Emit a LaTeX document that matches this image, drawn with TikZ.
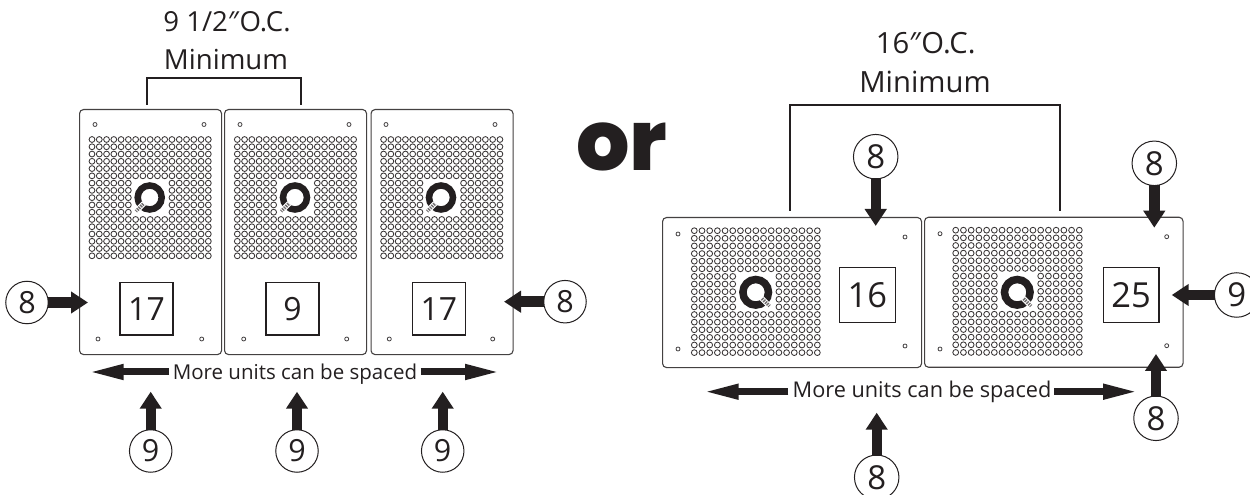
\documentclass[tikz,border=0pt]{standalone}
\usepackage{fontspec}
\setmainfont{Open Sans}
\usetikzlibrary{arrows.meta}
\definecolor{ink}{HTML}{231F20}
\newfontface\orfont{Poppins ExtraBold}
\newcommand{\dq}{\hspace{-.03em}{\itshape ″}\hspace{.06em}}
\tikzset{
  x=1bp,y=-1bp,
  panelbox/.style={draw=ink!85,line width=1.1bp,rounded corners=4bp,inner sep=0pt,anchor=north west},
  numbox/.style={draw=ink,line width=1.1bp,inner sep=0pt,text=ink,font=\fontsize{32bp}{32bp}\selectfont},
  callout/.style={circle,draw=ink,fill=white,line width=1bp,inner sep=0pt,minimum size=42.5bp,text=ink,font=\fontsize{30.5bp}{30.5bp}\selectfont},
  calloutb/.style={callout,minimum size=44.5bp,font=\fontsize{33bp}{33bp}\selectfont},
  fat/.style={draw=ink,line width=10.4bp,-{Triangle[length=17bp,width=21bp]},shorten <=-1bp},
  longarrow/.style={draw=ink,line width=7bp,-{Triangle[length=36bp,width=14bp]}},
  bracket/.style={draw=ink,line width=2bp},
  lbl/.style={text=ink,inner sep=0pt,font=\fontsize{27.6bp}{27.6bp}\selectfont},
  lblb/.style={lbl,font=\fontsize{29.2bp}{29.2bp}\selectfont},
  spaced/.style={text=ink,inner sep=0pt,anchor=base},
}
\newcommand{\holegrid}[4]{%
  \foreach \i in {0,...,16}{\foreach \j in {0,...,16}{%
    \pgfmathtruncatemacro{\skipit}{(\i>5)&&(\i<11)&&(\j>5)&&(\j<11)}%
    \ifnum\skipit=0
      \draw[ink!90,line width=.85bp] ({#1+\i*#3},{#2+\j*#4}) circle (2.9bp);
    \fi
  }}}
\newcommand{\smallhole}[2]{\draw[ink!85,line width=.8bp] (#1,#2) circle (2bp);}
\newcommand{\ringq}[5]{%
  \draw[ink,line width=#5bp] (#1,#2) circle (#4bp);
  \begin{scope}[shift={(#1,#2)},rotate=#3]
    \fill[white] (8,-2.7) rectangle (20,2.7);
    \draw[ink!65,line width=3.4bp,dash pattern=on 1.4bp off 1bp] (9,0) -- (19.5,0);
  \end{scope}}
\begin{document}
\begin{tikzpicture}
\useasboundingbox (0,0) rectangle (1250,495);
\clip (0,0) rectangle (1250,495);
\fill[white] (0,0) rectangle (1250,495);

\node[panelbox,minimum width=142bp,minimum height=245bp] (p1) at (79,109) {};
\node[panelbox,minimum width=142bp,minimum height=245bp] (p2) at (224,109) {};
\node[panelbox,minimum width=142bp,minimum height=245bp] (p3) at (370.5,109) {};
\holegrid{92}{139.5}{7.27}{7.27}
\holegrid{237.3}{139.5}{7.27}{7.27}
\holegrid{383.6}{139.5}{7.27}{7.27}
\smallhole{95}{124.5}\smallhole{204}{124.5}\smallhole{98}{339}\smallhole{201.7}{339}
\smallhole{240}{124.5}\smallhole{349}{124.5}\smallhole{243.7}{339}\smallhole{346.7}{339}
\smallhole{386}{124.5}\smallhole{495}{124.5}\smallhole{389.3}{339}\smallhole{492.7}{339}
\ringq{149.7}{197.5}{225}{12}{6.5}
\ringq{295}{197.5}{225}{12}{6.5}
\ringq{441}{197.5}{225}{12}{6.5}
\node[numbox,minimum width=53bp,minimum height=52.5bp] (b17a) at (146.5,308.8) {17};
\node[numbox,minimum width=53bp,minimum height=52.5bp] (b9) at (292.5,308.8) {9};
\node[numbox,minimum width=53bp,minimum height=52.5bp] (b17b) at (438.8,308.8) {17};

\node[panelbox,minimum width=259bp,minimum height=150bp] (pa) at (662,217) {};
\node[panelbox,minimum width=258.5bp,minimum height=150bp] (pb) at (924,216.7) {};
\holegrid{694.3}{230.7}{7.69}{7.62}
\holegrid{955.7}{230.2}{7.725}{7.64}
\smallhole{678}{234}\smallhole{678}{349}\smallhole{905}{237}\smallhole{905}{346}
\smallhole{940}{233.7}\smallhole{940}{349}\smallhole{1166.7}{236.7}\smallhole{1166.7}{345.7}
\ringq{755.7}{292.3}{-45}{12.8}{7.5}
\ringq{1017.3}{292.3}{-45}{12.8}{7.5}
\node[numbox,minimum width=55.5bp,minimum height=55.5bp,font=\fontsize{34.5bp}{34.5bp}\selectfont] (b16) at (867.3,295) {16};
\node[numbox,minimum width=55.5bp,minimum height=55.5bp,font=\fontsize{34.5bp}{34.5bp}\selectfont] (b25) at (1131.2,295) {25};

\node[lbl,anchor=base] (t1) at (227,32) {9 1/2\dq O.C.};
\node[lbl,anchor=base] (t2) at (226,70) {Minimum};
\node[lblb,anchor=base] (t3) at (925.7,54) {16\dq O.C.};
\node[lblb,anchor=base] (t4) at (925,93) {Minimum};
\node[text=ink,inner sep=0pt,anchor=base,font=\orfont\fontsize{84bp}{84bp}\selectfont] (orw) at (621.7,170.5) {or};

\coordinate (b1a) at (147,105); \coordinate (b1b) at (300.5,105);
\coordinate (b2a) at (790,211); \coordinate (b2b) at (1060,211);
\draw[bracket] (b1a) |- (147,78) -| (b1b);
\draw[bracket] (b2a) |- (790,104.7) -| (b2b);

\node[callout] (c8l) at (27,302.5) {8};
\node[callout] (c8r) at (565,301.7) {8};
\node[callout] (c9a) at (150.7,451) {9};
\node[callout] (c9b) at (297,451) {9};
\node[callout] (c9c) at (442.7,451) {9};
\node[calloutb] (c8t) at (875.7,156.7) {8};
\node[calloutb] (c8u) at (1154.3,163.3) {8};
\node[calloutb] (c9r) at (1236.7,295) {9};
\node[calloutb] (c8d) at (876.7,477.3) {8};
\node[calloutb] (c8e) at (1156,418.3) {8};

\coordinate (tl) at (88,302.5); \coordinate (tr) at (504,301.7);
\coordinate (ta) at (150.7,391.7); \coordinate (tb) at (297,391.7); \coordinate (tc) at (442.7,391.7);
\coordinate (tt) at (875.7,226); \coordinate (tu) at (1154.3,227.7);
\coordinate (tv) at (1171.7,295); \coordinate (td) at (876.7,412.7); \coordinate (te) at (1156,354);
\draw[fat] (c8l) -- (tl);
\draw[fat] (c8r) -- (tr);
\draw[fat] (c9a) -- (ta);
\draw[fat] (c9b) -- (tb);
\draw[fat] (c9c) -- (tc);
\draw[fat] (c8t) -- (tt);
\draw[fat] (c8u) -- (tu);
\draw[fat] (c9r) -- (tv);
\draw[fat] (c8d) -- (td);
\draw[fat] (c8e) -- (te);

\node[spaced,font=\fontsize{20.5bp}{20.5bp}\selectfont] (s1) at (295,379.5) {More units can be spaced};
\node[spaced,font=\fontsize{21.7bp}{21.7bp}\selectfont] (s2) at (922,397.5) {More units can be spaced};
\coordinate (s1l) at (169,372); \coordinate (s1la) at (87.7,372);
\coordinate (s1r) at (420.7,372); \coordinate (s1ra) at (501,372);
\coordinate (s2l) at (788.3,391.7); \coordinate (s2la) at (702.7,391.7);
\coordinate (s2r) at (1054,391.7); \coordinate (s2ra) at (1139,391.7);
\draw[longarrow] (s1l) -- (s1la);
\draw[longarrow] (s1r) -- (s1ra);
\draw[longarrow] (s2l) -- (s2la);
\draw[longarrow] (s2r) -- (s2ra);
\end{tikzpicture}
\end{document}
